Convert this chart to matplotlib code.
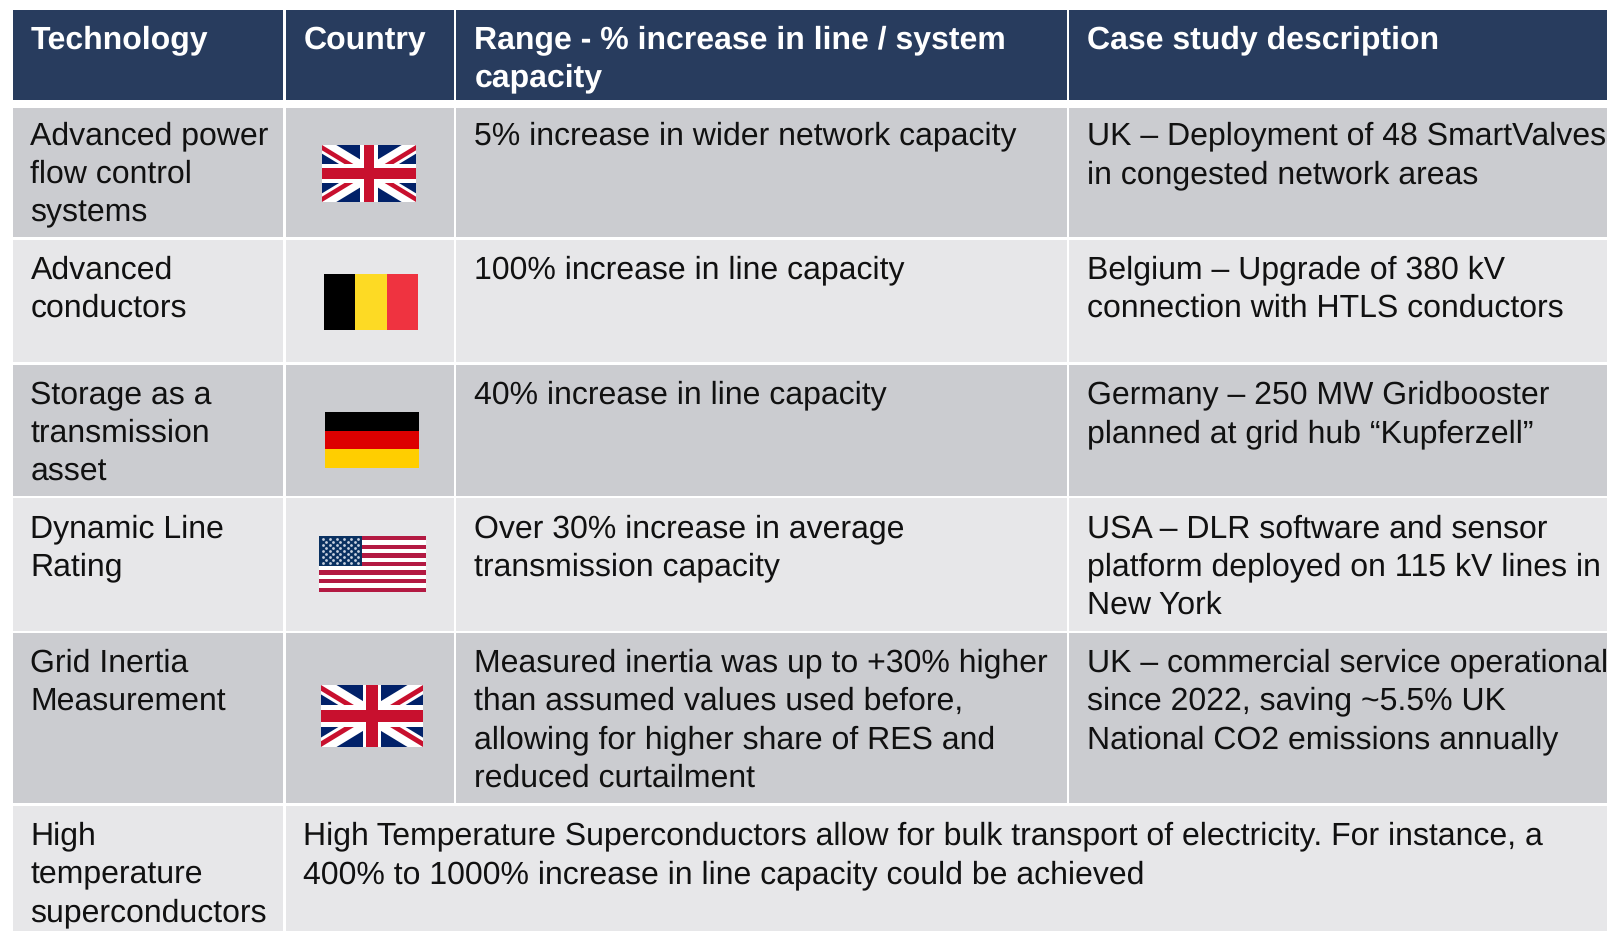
import matplotlib
matplotlib.use("Agg")
import matplotlib.pyplot as plt
from matplotlib.patches import Rectangle, Polygon

W, H = 1608, 931
headers = [["Technology"], ["Country"], ["Range - % increase in line / system", "capacity"], ["Case study description"]]
technology = [["Advanced power", "flow control", "systems"], ["Advanced", "conductors"],
              ["Storage as a", "transmission", "asset"], ["Dynamic Line", "Rating"],
              ["Grid Inertia", "Measurement"], ["High", "temperature", "superconductors"]]
ranges = [["5% increase in wider network capacity"], ["100% increase in line capacity"],
          ["40% increase in line capacity"], ["Over 30% increase in average", "transmission capacity"],
          ["Measured inertia was up to +30% higher", "than assumed values used before,",
           "allowing for higher share of RES and", "reduced curtailment"]]
cases = [["UK – Deployment of 48 SmartValves", "in congested network areas"],
         ["Belgium – Upgrade of 380 kV", "connection with HTLS conductors"],
         ["Germany – 250 MW Gridbooster", "planned at grid hub “Kupferzell”"],
         ["USA – DLR software and sensor", "platform deployed on 115 kV lines in", "New York"],
         ["UK – commercial service operational", "since 2022, saving ~5.5% UK", "National CO2 emissions annually"]]
merged = ["High Temperature Superconductors allow for bulk transport of electricity. For instance, a",
          "400% to 1000% increase in line capacity could be achieved"]
flags = ["uk", "be", "de", "us", "uk"]

col_x = [(13, 283), (286, 454), (456.5, 1067.5), (1069.5, 1610)]
header_y = (9.5, 100)
row_y = [(108, 237), (240, 362), (364.5, 495.5), (498, 630.5), (633, 802.5), (805.5, 933)]
flag_box = [(322, 416, 145, 202), (324, 418, 274, 330), (325, 419, 412, 468), (319, 426, 536, 592), (321, 423, 685, 747)]
row_fill = ["#CBCCD0", "#E7E7E9"]
NAVY = "#283C5E"
FS = 22.87
LS = 38.4
TEXT = "#111111"

plt.rcParams["text.hinting"] = "none"
plt.rcParams["text.hinting_factor"] = 1
fig = plt.figure(figsize=(W / 100, H / 100), dpi=100)
ax = fig.add_axes([0, 0, 1, 1])
ax.set_xlim(0, W)
ax.set_ylim(H, 0)
ax.axis("off")
plt.rcParams["font.family"] = ["Liberation Sans", "DejaVu Sans"]


def rect(x0, x1, y0, y1, c, z=1):
    ax.add_patch(Rectangle((x0, y0), x1 - x0, y1 - y0, fc=c, ec="none", zorder=z))


def lines(x, base, items, color=TEXT, weight="normal"):
    for i, s in enumerate(items):
        ax.text(x, base + i * LS, s, fontsize=FS, color=color, fontweight=weight,
                va="baseline", ha="left", zorder=5, clip_on=False)


def uk(x0, x1, y0, y1):
    w, h = x1 - x0, y1 - y0
    rect(x0, x1, y0, y1, "#012169", 3)
    clip = Rectangle((x0, y0), w, h, transform=ax.transData)
    def diag(ax_, ay, bx, by, t, c):
        dx, dy = (bx - ax_) * w, (by - ay) * h
        L = (dx ** 2 + dy ** 2) ** .5
        nx, ny = -dy / L * t, dx / L * t
        p = [(x0 + ax_ * w + nx, y0 + ay * h + ny), (x0 + bx * w + nx, y0 + by * h + ny),
             (x0 + bx * w - nx, y0 + by * h - ny), (x0 + ax_ * w - nx, y0 + ay * h - ny)]
        pg = Polygon(p, fc=c, ec="none", zorder=3.1)
        ax.add_patch(pg)
        pg.set_clip_path(clip)
    white = h * 0.13
    red = h * 0.05
    diag(0, 0, 1, 1, white, "#FFFFFF")
    diag(0, 1, 1, 0, white, "#FFFFFF")
    for a in [(0, 0, .5, .5, 1), (.5, .5, 1, 1, -1), (0, 1, .5, .5, -1), (.5, .5, 1, 0, 1)]:
        dx, dy = (a[2] - a[0]) * w, (a[3] - a[1]) * h
        L = (dx ** 2 + dy ** 2) ** .5
        nx, ny = -dy / L * red * a[4], dx / L * red * a[4]
        p = [(x0 + a[0] * w, y0 + a[1] * h), (x0 + a[2] * w, y0 + a[3] * h),
             (x0 + a[2] * w + 1.6 * nx, y0 + a[3] * h + 1.6 * ny), (x0 + a[0] * w + 1.6 * nx, y0 + a[1] * h + 1.6 * ny)]
        pg = Polygon(p, fc="#C8102E", ec="none", zorder=3.2)
        ax.add_patch(pg)
        pg.set_clip_path(clip)
    rect(x0 + w * .5 - h * .15, x0 + w * .5 + h * .15, y0, y1, "#FFFFFF", 3.3)
    rect(x0, x1, y0 + h * .33, y0 + h * .67, "#FFFFFF", 3.3)
    rect(x0 + w * .5 - h * .09, x0 + w * .5 + h * .09, y0, y1, "#C8102E", 3.4)
    rect(x0, x1, y0 + h * .4, y0 + h * .6, "#C8102E", 3.4)


def be(x0, x1, y0, y1):
    for i, c in enumerate(["#000000", "#FDDA24", "#EF3340"]):
        rect(x0 + (x1 - x0) * i / 3, x0 + (x1 - x0) * (i + 1) / 3, y0, y1, c, 3)


def de(x0, x1, y0, y1):
    for i, c in enumerate(["#000000", "#DD0000", "#FFCE00"]):
        rect(x0, x1, y0 + (y1 - y0) * i / 3, y0 + (y1 - y0) * (i + 1) / 3, c, 3)


def us(x0, x1, y0, y1):
    w, h = x1 - x0, y1 - y0
    rect(x0, x1, y0, y1, "#FFFFFF", 3)
    for i in range(0, 13, 2):
        rect(x0, x1, y0 + h * i / 13, y0 + h * (i + 1) / 13, "#B31942", 3.1)
    cw, ch = w * .4, h * 7 / 13
    rect(x0, x0 + cw, y0, y0 + ch, "#0A3161", 3.2)
    xs, ys = [], []
    for r in range(9):
        n = 6 if r % 2 == 0 else 5
        for k in range(n):
            xs.append(x0 + cw * ((k + (0.5 if r % 2 == 0 else 1)) / 6))
            ys.append(y0 + ch * (r + 1) / 10)
    ax.scatter(xs, ys, s=4, c="#C9D2E0", linewidths=0, zorder=3.3)


draw_flag = {"uk": uk, "be": be, "de": de, "us": us}

for (x0, x1), head in zip(col_x, headers):
    rect(x0, x1, *header_y, NAVY)
    lines(x0 + 17.5 if x0 < 300 else x0 + 18, 48.3, head, color="#FFFFFF", weight="bold")

bases = [144.5, 278.6, 403.6, 537.2, 671.4, 844.6]
for r, (y0, y1) in enumerate(row_y):
    fill = row_fill[r % 2]
    if r < 5:
        for x0, x1 in col_x:
            rect(x0, x1, y0, y1, fill)
        lines(30.5, bases[r], technology[r])
        lines(474.5, bases[r], ranges[r])
        lines(1087.5, bases[r], cases[r])
        draw_flag[flags[r]](*flag_box[r])
    else:
        rect(col_x[0][0], col_x[0][1], y0, y1, fill)
        rect(col_x[1][0], col_x[3][1], y0, y1, fill)
        lines(30.5, bases[r], technology[r])
        lines(303.5, bases[r], merged)

fig.savefig("out.png", dpi=100)
